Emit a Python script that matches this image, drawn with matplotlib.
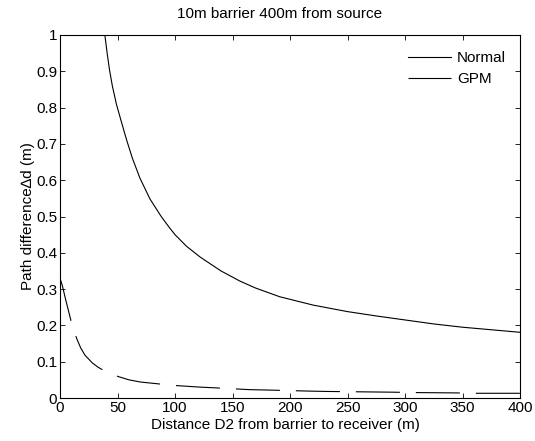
import matplotlib
matplotlib.use("Agg")
import matplotlib.pyplot as plt

plt.rcParams['font.family'] = ['Liberation Sans', 'DejaVu Sans']
plt.rcParams['lines.scale_dashes'] = False

# values
normal_x = [39, 41, 43, 45.5, 49, 53, 58, 63, 69.6, 78.3, 88, 95, 100, 110, 122, 140, 156.5, 170, 191, 220, 250, 275, 300, 325, 350, 375, 400]
normal_y = [1.0, 0.95, 0.905, 0.86, 0.81, 0.765, 0.71, 0.66, 0.605, 0.548, 0.5, 0.47, 0.45, 0.418, 0.388, 0.35, 0.322, 0.303, 0.279, 0.256, 0.238, 0.226, 0.215, 0.204, 0.195, 0.188, 0.181]

gpm_x = [0, 2, 5, 10.1, 14.5, 18, 21.7, 28, 33, 39, 50.7, 60, 70, 88.4, 102, 121.7, 134.8, 165, 179.7, 217, 233, 290, 307, 345, 359, 400]
gpm_y = [0.33, 0.31, 0.27, 0.206, 0.164, 0.138, 0.118, 0.097, 0.085, 0.074, 0.059, 0.050, 0.044, 0.038, 0.034, 0.030, 0.028, 0.023, 0.022, 0.019, 0.018, 0.016, 0.015, 0.014, 0.013, 0.013]

x_ticks = [0, 50, 100, 150, 200, 250, 300, 350, 400]
y_ticks = [0, 0.1, 0.2, 0.3, 0.4, 0.5, 0.6, 0.7, 0.8, 0.9, 1]
y_labels = ["0", "0.1", "0.2", "0.3", "0.4", "0.5", "0.6", "0.7", "0.8", "0.9", "1"]

fig = plt.figure(figsize=(5.35, 4.41), dpi=100)
ax = fig.add_axes([60 / 535, 43 / 441, 460 / 535, 363 / 441])

ax.plot(normal_x, normal_y, color='black', lw=0.8, label='Normal')
ax.plot(gpm_x, gpm_y, color='black', lw=0.8, linestyle=(0, (31.7, 11.5)), label='GPM')

ax.set_xlim(0, 400)
ax.set_ylim(0, 1)
ax.set_xticks(x_ticks)
ax.set_yticks(y_ticks)
ax.set_yticklabels(y_labels)
ax.tick_params(direction='in', top=True, right=True, length=3.5, width=0.6, labelsize=11, pad=2)
for s in ax.spines.values():
    s.set_linewidth(0.8)

ax.set_title('10m barrier 400m from source', fontsize=11, pad=12, x=0.478)
ax.set_xlabel('Distance D2 from barrier to receiver (m)', fontsize=11, labelpad=2, x=0.489)
ax.set_ylabel('Path difference\u2206d (m)', fontsize=11, labelpad=1)

ax.legend(loc='upper right', frameon=False, fontsize=11, handlelength=2.8,
          handletextpad=0.4, labelspacing=0.45, bbox_to_anchor=(0.99, 0.98), borderaxespad=0.2)

fig.savefig('out.png', dpi=100)
